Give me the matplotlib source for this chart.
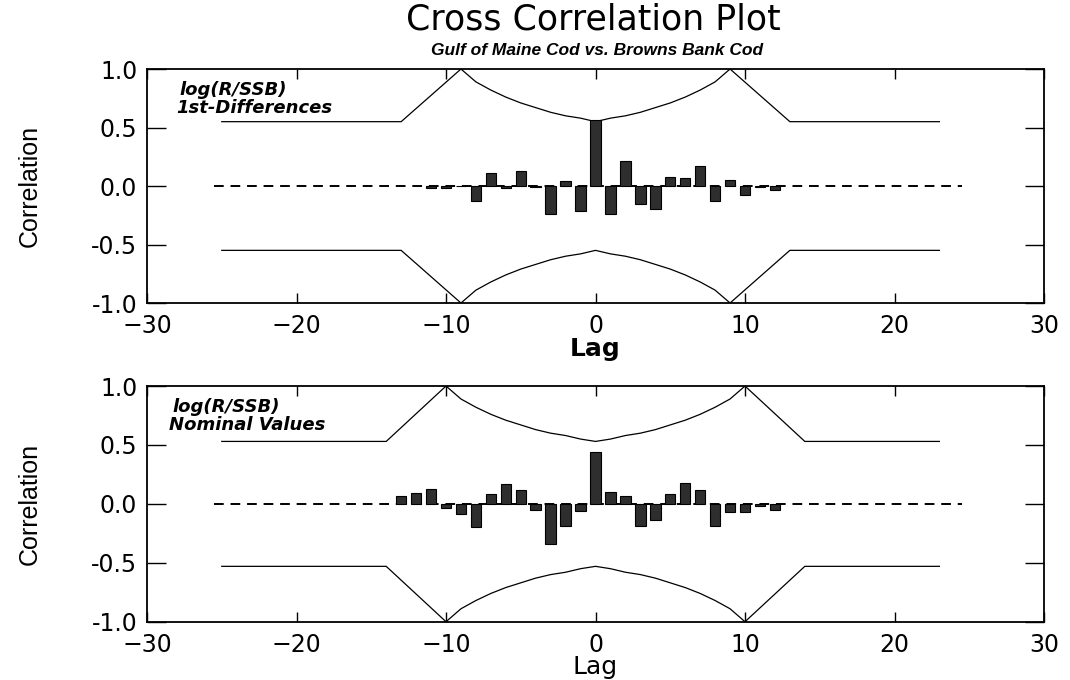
import numpy as np
import matplotlib
matplotlib.use("Agg")
import matplotlib.pyplot as plt

# Cross-correlation values
lags_diff = [-11, -10, -9, -8, -7, -6, -5, -4, -3, -2, -1, 0,
             1, 2, 3, 4, 5, 6, 7, 8, 9, 10, 11, 12]
corr_diff = [-0.02, -0.02, 0.0, -0.13, 0.11, -0.02, 0.13, -0.01, -0.24, 0.04, -0.21, 0.56,
             -0.235, 0.21, -0.15, -0.195, 0.08, 0.07, 0.17, -0.13, 0.05, -0.075, -0.01, -0.035]

lags_nom = [-13, -12, -11, -10, -9, -8, -7, -6, -5, -4, -3, -2, -1, 0,
            1, 2, 3, 4, 5, 6, 7, 8, 9, 10, 11, 12]
corr_nom = [0.07, 0.09, 0.13, -0.035, -0.085, -0.2, 0.08, 0.165, 0.12, -0.05, -0.34, -0.19, -0.06, 0.44,
            0.10, 0.065, -0.19, -0.14, 0.08, 0.18, 0.12, -0.185, -0.065, -0.065, -0.02, -0.05]

# confidence bound (upper); lower is the mirror image
bound_lags_diff = [-25, -13, -9, -8, -7, -6, -5, -4, -3, -2, -1, 0,
                   1, 2, 3, 4, 5, 6, 7, 8, 9, 13, 23]
bound_diff = [0.55, 0.55, 1.00, 0.89, 0.82, 0.76, 0.71, 0.67, 0.63, 0.60, 0.58, 0.55,
              0.58, 0.60, 0.63, 0.67, 0.71, 0.76, 0.82, 0.89, 1.00, 0.55, 0.55]

bound_lags_nom = [-25, -14, -10, -9, -8, -7, -6, -5, -4, -3, -2, -1, 0,
                  1, 2, 3, 4, 5, 6, 7, 8, 9, 10, 14, 23]
bound_nom = [0.53, 0.53, 1.00, 0.89, 0.82, 0.76, 0.71, 0.67, 0.63, 0.60, 0.58, 0.55, 0.53,
             0.55, 0.58, 0.60, 0.63, 0.67, 0.71, 0.76, 0.82, 0.89, 1.00, 0.53, 0.53]

zero_span = [-25.5, 24.5]
xticks = [-30, -20, -10, 0, 10, 20, 30]
yticks = [-1.0, -0.5, 0.0, 0.5, 1.0]

panels = [
    (lags_diff, corr_diff, bound_lags_diff, bound_diff, "log(R/SSB)", "1st-Differences", 0.036, "bold", -0.145),
    (lags_nom, corr_nom, bound_lags_nom, bound_nom, "log(R/SSB)", "Nominal Values", 0.028, "normal", -0.142),
]

fig = plt.figure(figsize=(10.7, 6.8), dpi=100)
rects = [[0.1374, 0.5544, 0.8383, 0.3441], [0.1374, 0.0857, 0.8383, 0.3466]]

for rect, (lg, cv, blg, bv, l1, l2, tx, lagw, lagy) in zip(rects, panels):
    ax = fig.add_axes(rect)
    ax.bar(lg, cv, width=0.7, color="#2e2e2e", edgecolor="black", linewidth=0.8, zorder=3)
    ax.plot(zero_span, [0, 0], color="black", lw=1.4, ls=(0, (5, 3.5)), zorder=2)
    ax.plot(blg, bv, color="black", lw=0.9)
    ax.plot(blg, -np.array(bv), color="black", lw=0.9)

    ax.set_xlim(-30, 30)
    ax.set_ylim(-1.0, 1.0)
    ax.set_xticks(xticks)
    ax.set_yticks(yticks)
    ax.set_yticklabels(["%.1f" % v for v in yticks])
    ax.tick_params(axis="x", direction="in", length=7, width=1, top=True,
                   labelsize=17, pad=8)
    ax.tick_params(axis="y", direction="in", length=14, width=1, right=True,
                   labelsize=17, pad=7)
    for s in ax.spines.values():
        s.set_linewidth(1.3)

    ax.set_xlabel("Lag", fontsize=18, fontweight=lagw)
    ax.xaxis.set_label_coords(0.5, lagy)
    ax.set_ylabel("Correlation", fontsize=18, family="Liberation Sans")
    ax.yaxis.set_label_coords(-0.117, 0.5)

    ax.text(tx, 0.91, l1, transform=ax.transAxes, fontsize=13, style="italic",
            fontweight="bold", va="center", ha="left")
    ax.text(tx - 0.004, 0.835, l2, transform=ax.transAxes, fontsize=13, style="italic",
            fontweight="bold", va="center", ha="left")

fig.text(0.555, 0.971, "Cross Correlation Plot", fontsize=25, ha="center", va="center")
fig.text(0.558, 0.926, "Gulf of Maine Cod vs. Browns Bank Cod", fontsize=12.5,
         family="Liberation Sans", style="italic", fontweight="bold",
         ha="center", va="center")

fig.savefig("out.png", dpi=100)
